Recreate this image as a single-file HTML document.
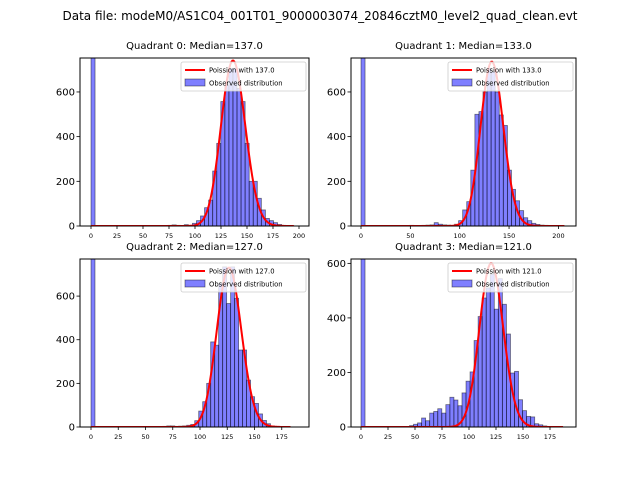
<!DOCTYPE html>
<html><head><meta charset="utf-8">
<style>
body{margin:0;background:#fff;}
svg{display:block;font-family:"DejaVu Sans","Liberation Sans",sans-serif;}
</style></head>
<body>
<svg id="fig" width="640" height="480" viewBox="0 0 640 480" xmlns="http://www.w3.org/2000/svg">
<rect width="640" height="480" fill="#fff"/>
<text x="320" y="20" font-size="12" text-anchor="middle">Data file: modeM0/AS1C04_001T01_9000003074_20846cztM0_level2_quad_clean.evt</text>
</svg>
<script>
const medians = [137, 133, 127, 121];
const xMaxes = [195, 206, 183, 187];
const yMaxes = [752, 752, 770, 616];
const curvePeaks = [740, 735, 730, 600];
const xTicks0 = [0,25,50,75,100,125,150,175,200];
const xTicks1 = [0,50,100,150,200];
const xTicks2 = [0,25,50,75,100,125,150,175];
const xTicks3 = [0,25,50,75,100,125,150,175];
const yTicks0 = [0,200,400,600];
const yTicks1 = [0,200,400,600];
const yTicks2 = [0,200,400,600];
const yTicks3 = [0,200,400,600];
const counts0 = [2000,0,0,0,0,0,0,0,0,0,0,0,0,0,0,0,0,0,0,3,5,3,2,6,3,12,24,45,82,116,246,370,557,630,706,706,616,557,370,200,200,124,72,34,24,15,7,3,2,1];
const counts1 = [2000,0,0,0,2,0,0,0,0,0,0,0,3,0,0,3,4,5,15,8,5,4,3,8,24,72,109,250,500,512,600,706,690,600,497,450,250,164,113,69,37,24,12,7,4,3,2,1,1,1];
const counts2 = [2000,0,0,0,0,0,0,0,0,0,0,0,0,0,0,0,0,0,3,5,5,3,4,5,8,12,29,73,116,200,390,375,658,734,566,734,590,353,353,215,139,108,60,30,15,5,3,1,1,1];
const counts3 = [2000,0,2,0,0,0,0,0,0,0,0,2,5,10,15,33,23,51,57,67,51,82,109,99,78,125,168,202,317,405,473,510,560,432,544,450,341,198,204,100,60,39,37,12,8,4,2,1,1,1];

const allX = [xTicks0,xTicks1,xTicks2,xTicks3];
const allY = [yTicks0,yTicks1,yTicks2,yTicks3];
const allC = [counts0,counts1,counts2,counts3];
const boxes = [
  {l:80,r:309,t:58,b:226,x0:91,xs:1.04},
  {l:351,r:576,t:58,b:226,x0:361,xs:0.987},
  {l:80,r:309,t:259,b:427,x0:91,xs:1.09},
  {l:351,r:576,t:259,b:427,x0:361,xs:1.08}
];
const NS="http://www.w3.org/2000/svg";
const svg=document.getElementById('fig');
function mk(tag,attrs,parent){const e=document.createElementNS(NS,tag);for(const k in attrs)e.setAttribute(k,attrs[k]);(parent||svg).appendChild(e);return e;}
function logPmf(k,mu){let s=k*Math.log(mu)-mu;for(let i=2;i<=k;i++)s-=Math.log(i);return s;}

for(let p=0;p<4;p++){
  const B=boxes[p];
  const xs=v=>B.x0+v*B.xs;
  const ys=v=>B.b-(v/yMaxes[p])*(B.b-B.t);
  const g=mk('g',{});
  
  
  const clipId='clip'+p;
  const cp=mk('clipPath',{id:clipId},g);
  mk('rect',{x:B.l,y:B.t,width:B.r-B.l,height:B.b-B.t},cp);
  const title=mk('text',{x:(B.l+B.r)/2,y:B.t-9,'font-size':'10','text-anchor':'middle'},g);
  title.textContent='Quadrant '+p+': Median='+medians[p].toFixed(1);
  
  
  const bars=mk('g',{'clip-path':'url(#'+clipId+')'},g);
  const c=allC[p];const bw=xMaxes[p]/c.length;
  for(let i=0;i<c.length;i++){
    if(c[i]<=0)continue;
    const x1=xs(i*bw),x2=xs((i+1)*bw);
    const r=mk('rect',{x:x1,y:ys(c[i]),width:x2-x1,height:ys(0)-ys(c[i]),fill:'rgba(0,0,255,0.5)',stroke:'rgba(0,0,0,0.5)','stroke-width':'0.8'},bars);
    
    
  }
  const mu=medians[p];
  const scale=curvePeaks[p]/Math.exp(logPmf(Math.floor(mu),mu));
  let d='';
  for(let k=0;k<=Math.round(xMaxes[p]);k++){
    const v=scale*Math.exp(logPmf(k,mu));
    d+=(k?'L':'M')+xs(k).toFixed(2)+','+ys(v).toFixed(2);
  }
  const line=mk('path',{d:d,fill:'none',stroke:'#ff0000','stroke-width':'2','clip-path':'url(#'+clipId+')'},g);
  
  
  mk('rect',{x:B.l,y:B.t,width:B.r-B.l,height:B.b-B.t,fill:'none',stroke:'#000','stroke-width':'1'},g);
  allX[p].forEach(t=>{
    mk('line',{x1:xs(t),x2:xs(t),y1:B.b,y2:B.b+3,stroke:'#000','stroke-width':'0.8'},g);
    const tx=mk('text',{x:xs(t),y:B.b+12,'font-size':'6.5','text-anchor':'middle'},g);
    tx.textContent=t;
    
    
  });
  allY[p].forEach(t=>{
    mk('line',{x1:B.l-3.5,x2:B.l,y1:ys(t),y2:ys(t),stroke:'#000','stroke-width':'0.8'},g);
    const ty=mk('text',{x:B.l-5,y:ys(t)+3.5,'font-size':'10','text-anchor':'end'},g);
    ty.textContent=t;
    
    
  });
  const lg=mk('g',{},g);
  
  
  const lx=B.r-128,ly=B.t+4;
  mk('rect',{x:lx,y:ly,width:125,height:29,rx:2,fill:'rgba(255,255,255,0.8)',stroke:'#ccc','stroke-width':'0.8'},lg);
  mk('line',{x1:lx+4,x2:lx+24,y1:ly+8,y2:ly+8,stroke:'#ff0000','stroke-width':'2'},lg);
  const t1=mk('text',{x:lx+28,y:ly+10.5,'font-size':'6.8'},lg);
  t1.textContent='Poission with '+medians[p].toFixed(1);
  
  
  mk('rect',{x:lx+4,y:ly+17,width:20,height:7,fill:'rgba(0,0,255,0.5)',stroke:'rgba(0,0,0,0.5)','stroke-width':'0.8'},lg);
  const t2=mk('text',{x:lx+28,y:ly+23.5,'font-size':'6.8'},lg);
  t2.textContent='Observed distribution';
  
  
}
</script>
</body></html>
